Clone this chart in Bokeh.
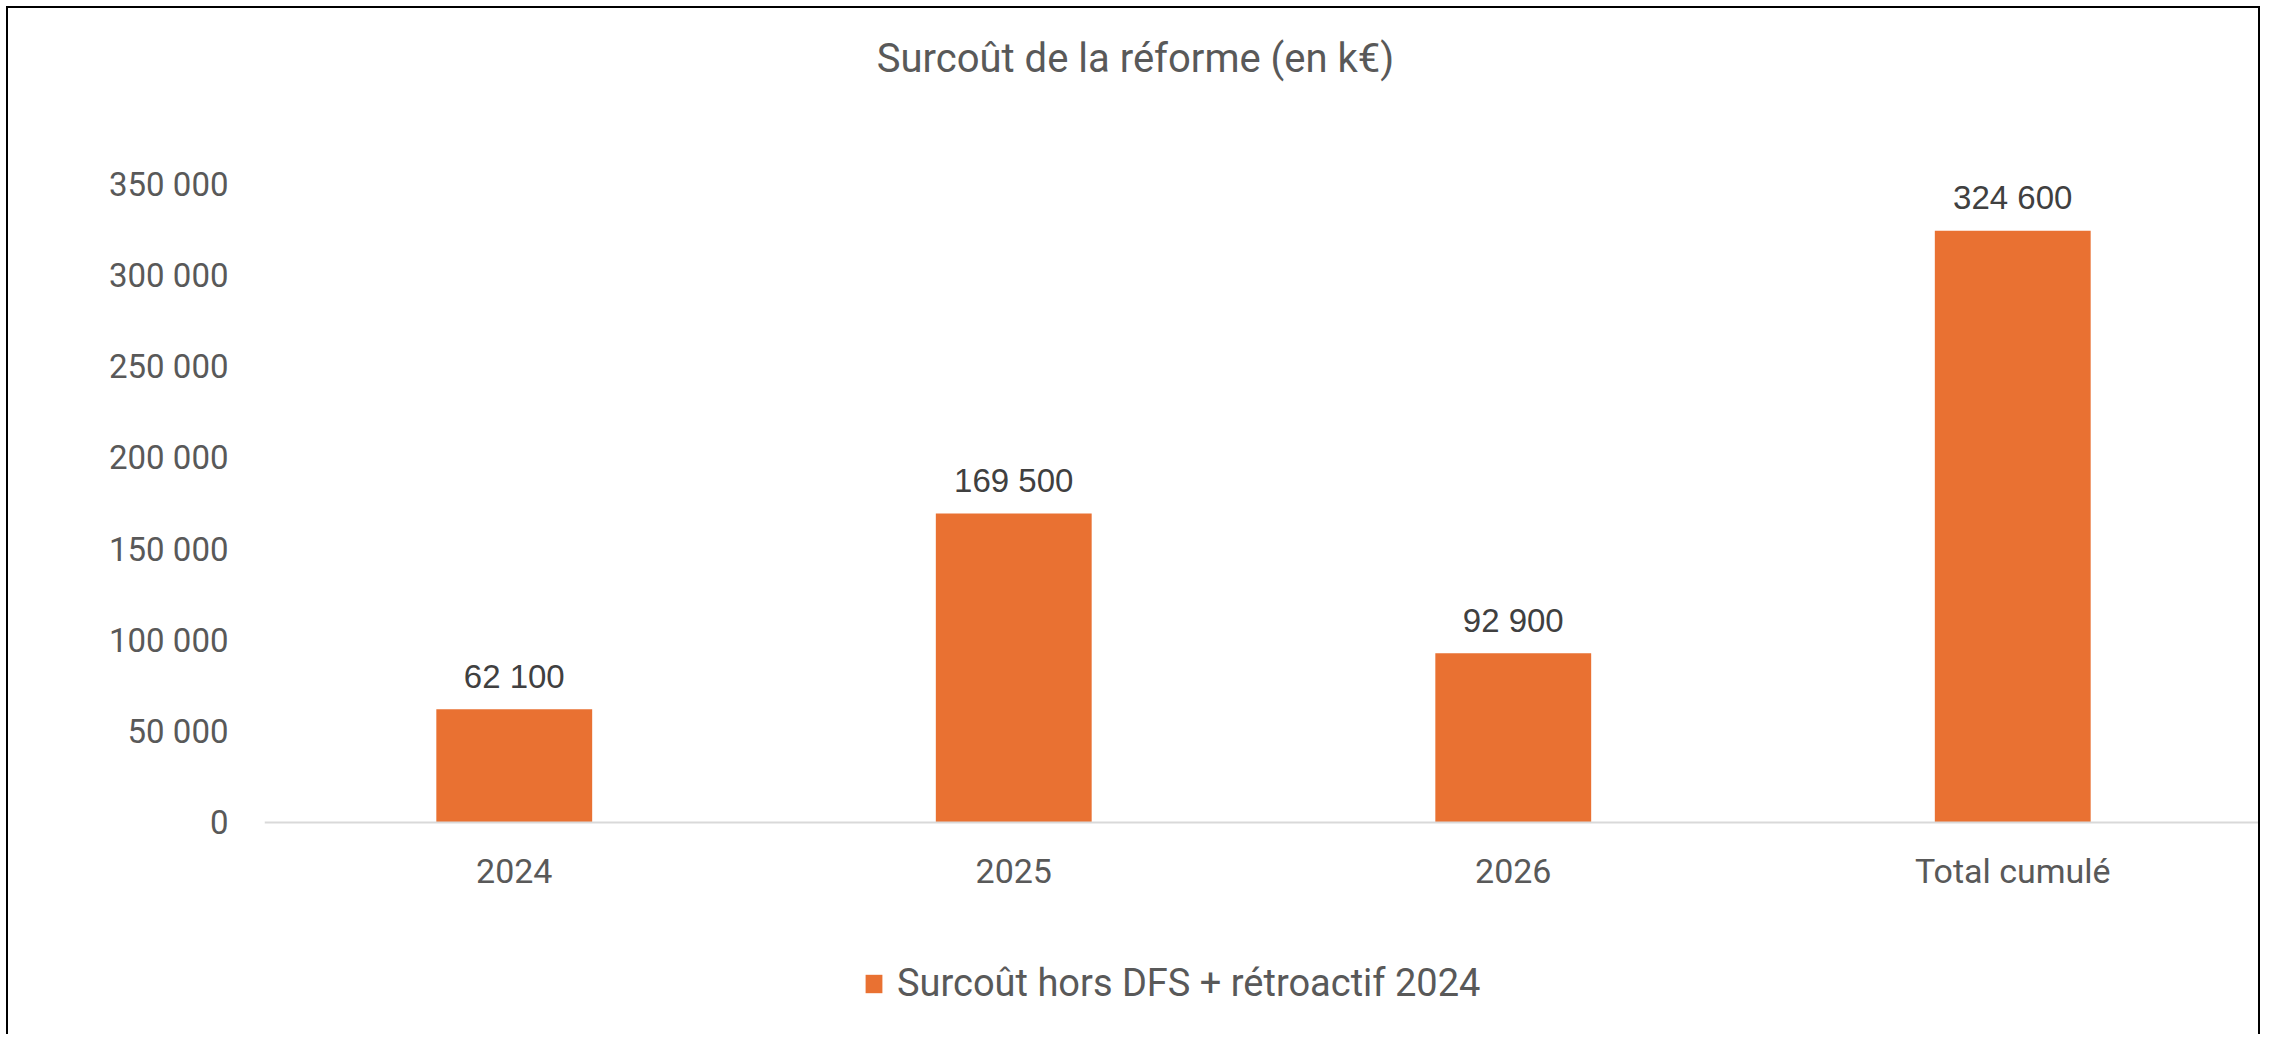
from bokeh.plotting import figure
from bokeh.models import Legend, LegendItem, Label, LabelSet, ColumnDataSource
from bokeh.core.properties import value
from bokeh.embed import file_html
from bokeh.resources import INLINE

title_text = "Surcoût de la réforme (en k€)"
series_name = "Surcoût hors DFS + rétroactif 2024"
categories = ["2024", "2025", "2026", "Total cumulé"]
values = [62100, 169500, 92900, 324600]
value_labels = ["62 100", "169 500", "92 900", "324 600"]
y_ticks = [0, 50000, 100000, 150000, 200000, 250000, 300000, 350000]
y_tick_labels = ["0", "50 000", "100 000", "150 000", "200 000", "250 000", "300 000", "350 000"]

# layout (pixels): canvas 2254 x 1028, value axis spans 638 px from 176 px below the top
CANVAS_W, CANVAS_H = 2254, 1028
AXIS_TOP, AXIS_LEN = 176, 638
y_max = y_ticks[-1]
k = y_max / AXIS_LEN
y_hi = y_max + AXIS_TOP * k
y_lo = -(CANVAS_H - AXIS_TOP - AXIS_LEN) * k

src = ColumnDataSource(dict(cat=categories, val=values, lab=value_labels))

p = figure(x_range=categories, y_range=(y_lo, y_hi), width=CANVAS_W, height=CANVAS_H,
           output_backend="svg", toolbar_location=None,
           min_border_left=256, min_border_right=0, min_border_top=0, min_border_bottom=0)
p.styles = {"margin-left": "6px", "margin-top": "6px",
            "border-left": "2px solid black", "border-top": "2px solid black",
            "border-right": "2px solid black"}
p.outline_line_color = None
p.xgrid.grid_line_color = None
p.ygrid.grid_line_color = None

r = p.vbar(x="cat", top="val", width=0.312, fill_color="#E97132", line_color=None, source=src)
labels = LabelSet(x="cat", y="val", text="lab", source=src, text_align="center",
                  text_baseline="middle", y_offset=33, text_font=value("Liberation Sans"),
                  text_font_size=value("33px"), text_color=value("#404040"))
p.add_layout(labels)

p.yaxis.ticker = y_ticks
p.yaxis.major_label_overrides = {t: l for t, l in zip(y_ticks, y_tick_labels)}
p.yaxis.axis_line_color = None
p.yaxis.major_tick_line_color = None
p.yaxis.minor_tick_line_color = None
p.yaxis.major_tick_out = 0
p.yaxis.major_tick_in = 0
p.yaxis.minor_tick_out = 0
p.yaxis.major_label_standoff = 36
p.yaxis.major_label_text_font = "Roboto"
p.yaxis.major_label_text_font_size = "33px"
p.yaxis.major_label_text_color = "#595959"

p.xaxis.fixed_location = 0
p.xaxis.axis_line_color = "#D9D9D9"
p.xaxis.axis_line_width = 2
p.xaxis.major_tick_line_color = None
p.xaxis.minor_tick_line_color = None
p.xaxis.major_tick_out = 0
p.xaxis.major_tick_in = 0
p.xaxis.major_label_standoff = 28
p.xaxis.major_label_text_font = "Roboto"
p.xaxis.major_label_text_font_size = "34px"
p.xaxis.major_label_text_color = "#595959"

title = Label(x=871, y=978, x_units="screen", y_units="screen", text=title_text,
              text_align="center", text_baseline="middle", text_font="Roboto",
              text_font_size="40px", text_color="#595959")
p.add_layout(title)

legend = Legend(items=[LegendItem(label=series_name, renderers=[r])], orientation="horizontal",
                location=(599, 31), glyph_width=21, glyph_height=23, label_standoff=13,
                label_text_font="Roboto", label_text_font_size="38px",
                label_text_color="#595959", border_line_color=None, background_fill_alpha=0,
                padding=0, margin=0)
p.add_layout(legend, "center")

open("out.html", "w").write(file_html(p, INLINE))
